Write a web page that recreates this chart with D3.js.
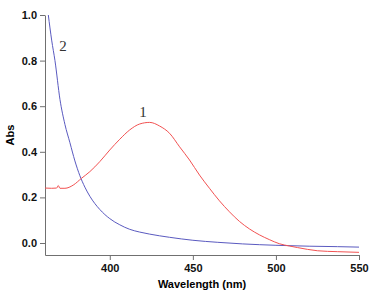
<!DOCTYPE html>
<html>
<head>
<meta charset="utf-8">
<script src="https://cdn.jsdelivr.net/npm/d3@7"></script>
<style>
  body { margin: 0; background: #fff; }
  .axis text { font-family: "Liberation Sans", Arial, sans-serif; font-weight: bold; font-size: 11px; fill: #111; }
  .axis path, .axis line { stroke: #707070; }
</style>
</head>
<body>
<script>
// spectrum 1 (red)
var wl1 = [361, 365, 368, 369, 370, 373, 378, 383, 388, 394, 400, 406, 412, 418, 424, 430, 436, 442, 448, 454, 460, 466, 472, 478, 484, 490, 496, 502, 508, 513, 525, 537, 550];
var abs1 = [0.241, 0.240, 0.241, 0.252, 0.240, 0.240, 0.254, 0.284, 0.313, 0.357, 0.408, 0.455, 0.496, 0.522, 0.529, 0.513, 0.481, 0.422, 0.364, 0.298, 0.240, 0.185, 0.137, 0.095, 0.062, 0.036, 0.015, -0.003, -0.013, -0.020, -0.034, -0.038, -0.041];
// spectrum 2 (blue)
var wl2 = [363, 365, 367, 370, 373, 376, 379, 382, 385, 388, 391, 394, 397, 400, 403, 406, 409, 412, 418, 424, 436, 450, 465, 480, 500, 520, 537, 550];
var abs2 = [1.0, 0.89, 0.80, 0.63, 0.52, 0.44, 0.36, 0.295, 0.245, 0.205, 0.173, 0.147, 0.125, 0.107, 0.092, 0.080, 0.069, 0.060, 0.048, 0.039, 0.025, 0.012, 0.003, -0.004, -0.010, -0.014, -0.016, -0.018];

var xTicks = [400, 450, 500, 550];
var yTicks = [0, 0.2, 0.4, 0.6, 0.8, 1.0];

var width = 379, height = 299;

var svg = d3.select("body").append("svg")
    .attr("width", width)
    .attr("height", height);

var x = d3.scaleLinear().domain([361, 550]).range([45, 359]);
var y = d3.scaleLinear().domain([-0.0526, 1]).range([255, 15]);

svg.append("defs").append("clipPath").attr("id", "clip")
  .append("rect").attr("x", 45).attr("y", 15).attr("width", 314).attr("height", 240);

svg.append("g")
    .attr("class", "axis")
    .attr("transform", "translate(0,255)")
    .call(d3.axisBottom(x).tickValues(xTicks).tickSize(5).tickSizeOuter(0).tickPadding(4));

svg.append("g")
    .attr("class", "axis")
    .attr("transform", "translate(45,0)")
    .call(d3.axisLeft(y).tickValues(yTicks).tickSize(5).tickSizeOuter(0).tickPadding(3).tickFormat(d3.format(".1f")));

var line = d3.line()
    .x(function(d) { return x(d[0]); })
    .y(function(d) { return y(d[1]); })
    .curve(d3.curveMonotoneX);

var plot = svg.append("g").attr("clip-path", "url(#clip)");

plot.append("path")
    .datum(d3.zip(wl2, abs2))
    .attr("d", line)
    .attr("fill", "none")
    .attr("stroke", "#5a5ac0")
    .attr("stroke-width", 1);

plot.append("path")
    .datum(d3.zip(wl1, abs1))
    .attr("d", line)
    .attr("fill", "none")
    .attr("stroke", "#f25252")
    .attr("stroke-width", 1);

// curve labels
svg.append("text").attr("x", 143).attr("y", 117)
    .attr("text-anchor", "middle")
    .style("font-family", "'Liberation Serif', serif").style("font-size", "15px").style("fill", "#333")
    .text("1");
svg.append("text").attr("x", 63).attr("y", 51)
    .attr("text-anchor", "middle")
    .style("font-family", "'Liberation Serif', serif").style("font-size", "15px").style("fill", "#333")
    .text("2");

// axis titles
svg.append("text")
    .attr("x", 202).attr("y", 288)
    .attr("text-anchor", "middle")
    .style("font-family", "'Liberation Sans', Arial, sans-serif").style("font-weight", "bold").style("font-size", "11px")
    .text("Wavelength (nm)");

svg.append("text")
    .attr("transform", "translate(14,135) rotate(-90)")
    .attr("text-anchor", "middle")
    .style("font-family", "'Liberation Sans', Arial, sans-serif").style("font-weight", "bold").style("font-size", "11px")
    .text("Abs");
</script>
</body>
</html>
